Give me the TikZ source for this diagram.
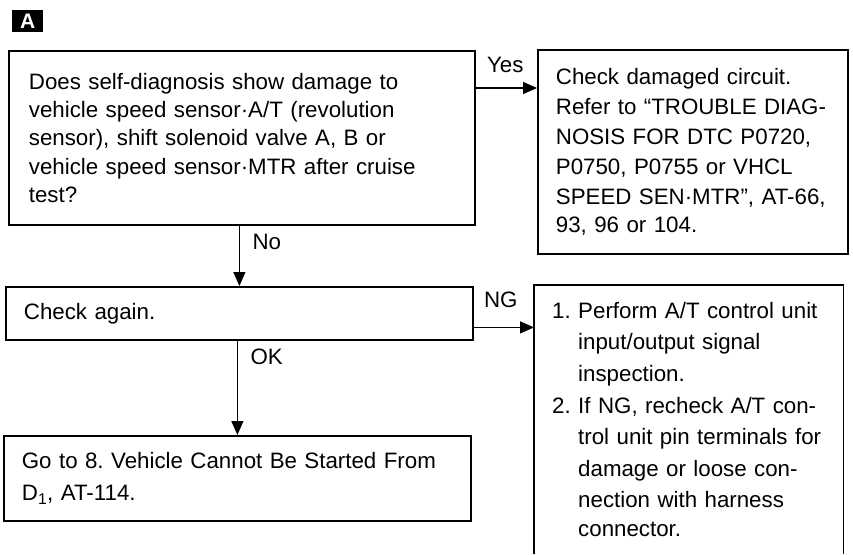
\documentclass[tikz,border=0pt]{standalone}
\usepackage{fontspec}
\newfontfamily\FlowSans{Liberation Sans}
\usetikzlibrary{arrows.meta,positioning,calc}
\frenchspacing
\newcommand{\FlowBoxFont}{\FlowSans\fontsize{22.3}{28.3}\selectfont}
\newcommand{\FlowTagFont}{\FlowSans\bfseries\fontsize{21}{21}\selectfont}
\newcommand{\ItemIndent}{\hspace*{26pt}}
\definecolor{FlowDraw}{RGB}{0,0,0}
\definecolor{FlowFill}{RGB}{255,255,255}
\tikzset{
  every node/.style={align=left},
  %% base box
  flowBlk/.style={
    draw=FlowDraw,
    fill=FlowFill,
    line width=1.8pt,
    inner xsep=18pt,
    inner ysep=0pt,
    anchor=north west,
    font=\FlowBoxFont,
  },
  %% open-bottom box text
  ngTxt/.style={
    inner xsep=18pt,
    inner ysep=17pt,
    anchor=north west,
    font=\FlowBoxFont,
  },
  openLine/.style={
    draw=FlowDraw,
    line width=1.8pt,
  },
  %% section tag
  tagBlk/.style={
    fill=FlowDraw,
    text=FlowFill,
    anchor=north west,
    inner sep=0pt,
    minimum width=31pt,
    minimum height=22pt,
    align=center,
    font=\FlowTagFont,
  },
  %% arrows
  arr/.style={
    -{Triangle[length=14pt,width=12pt]},
    line width=1.2pt,
    FlowDraw,
  },
  %% branch labels
  lbl/.style={
    font=\FlowBoxFont,
    inner sep=0pt,
    anchor=base west,
  },
}

\begin{document}
\begin{tikzpicture}[x=1pt,y=-1pt]

\useasboundingbox (0,0) rectangle (853,554);

%%═══════════════════════════════ TAG ═════════════════════════════════════════
\node[tagBlk] (TAG) at (12,10) {A};

%%═══════════════════════════════ BOXES ═══════════════════════════════════════
\node[flowBlk, inner xsep=20pt, text width=426pt, minimum height=174pt] (Q) at (8,50) {%
  Does self-diagnosis show damage to\\
  vehicle speed sensor·A/T (revolution\\
  sensor), shift solenoid valve A, B or\\
  vehicle speed sensor·MTR after cruise\\
  test?
};

\node[flowBlk, text width=274pt, minimum height=204pt] (Y) at (537,49) {%
  \baselineskip=30pt
  Check damaged circuit.\\
  Refer to “TROUBLE DIAG-\\
  NOSIS FOR DTC P0720,\\
  P0750, P0755 or VHCL\\
  SPEED SEN·MTR”, AT-66,\\
  93, 96 or 104.
};

\node[flowBlk, text width=431pt, minimum height=53pt] (CHK) at (5,286) {%
  Check again.
};

\node[flowBlk, text width=431pt, minimum height=85pt] (GO) at (3,435) {%
  Go to 8. Vehicle Cannot Be Started From\\[4pt]
  D\textsubscript{1}, AT-114.
};

\node[ngTxt, text width=273pt] (NG) at (534,285) {%
  \baselineskip=31.6pt
  1. Perform A/T control unit\\
  \ItemIndent input/output signal\\
  \ItemIndent inspection.\\
  2. If NG, recheck A/T con-\\
  \ItemIndent trol unit pin terminals for\\
  \ItemIndent damage or loose con-\\
  \ItemIndent nection with harness\\
  \ItemIndent connector.
};

%% ── open-bottom frame of the NG box ────────────────────────────────────────
\coordinate (PageBot) at (0,554);
\draw[openLine] (NG.north west |- PageBot) -- (NG.north west)
  -- (NG.north east) -- (NG.north east |- PageBot);

%% ── Branch arrows ──────────────────────────────────────────────────────────
\coordinate (YesOut) at ($(Q.north east)+(0,38)$);
\coordinate (NgOut)  at ($(CHK.east)+(0,14)$);

\draw[arr] (YesOut) -- (YesOut -| Y.west);
\draw[arr] (Q.south -| CHK.north) -- (CHK.north);
\draw[arr] (NgOut) -- (NgOut -| NG.west);
\draw[arr] (CHK.south -| GO.north) -- (GO.north);

%% ── Branch labels ──────────────────────────────────────────────────────────
\node[lbl] (YES) at ($(YesOut)+(11,-16)$) {Yes};
\node[lbl] (NO)  at ($(Q.south -| CHK.north)+(13,24)$) {No};
\node[lbl] (NGL) at ($(NgOut)+(10,-20)$) {NG};
\node[lbl] (OKL) at ($(CHK.south -| GO.north)+(13,24)$) {OK};

\end{tikzpicture}
\end{document}
